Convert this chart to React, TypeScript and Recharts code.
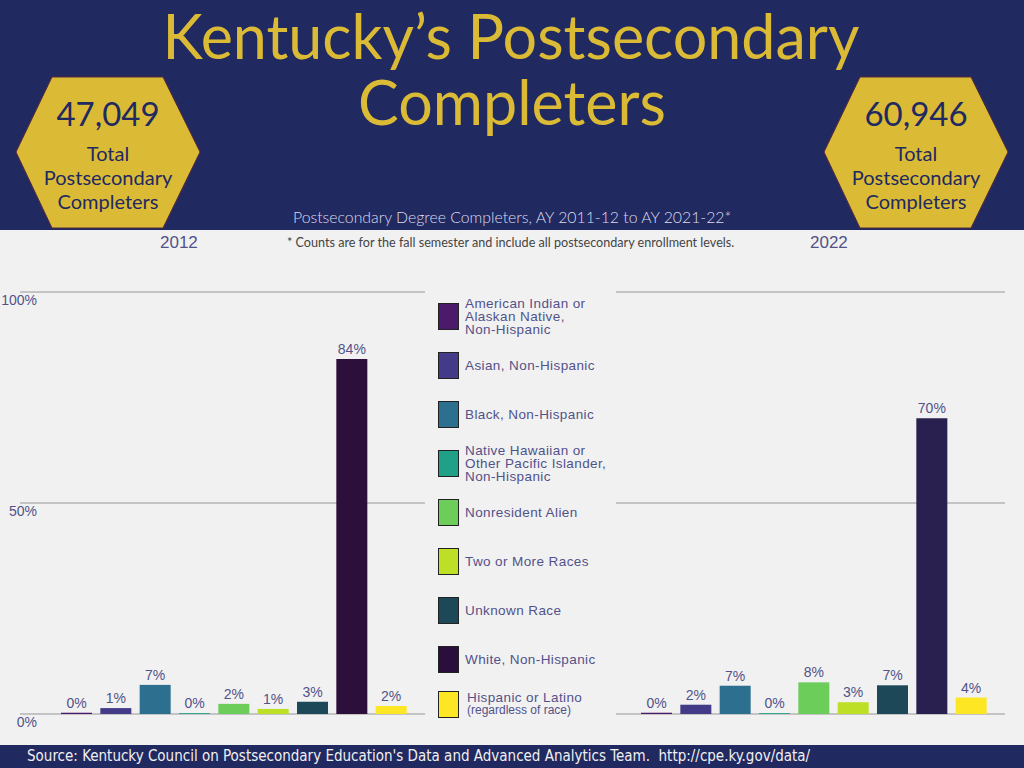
import { BarChart, Bar, XAxis, YAxis, CartesianGrid, Cell, LabelList } from 'recharts'

const categories = [
  'American Indian or Alaskan Native, Non-Hispanic',
  'Asian, Non-Hispanic',
  'Black, Non-Hispanic',
  'Native Hawaiian or Other Pacific Islander, Non-Hispanic',
  'Nonresident Alien',
  'Two or More Races',
  'Unknown Race',
  'White, Non-Hispanic',
  'Hispanic or Latino',
]

const legendLines = [
  ['American Indian or', 'Alaskan Native,', 'Non-Hispanic'],
  ['Asian, Non-Hispanic'],
  ['Black, Non-Hispanic'],
  ['Native Hawaiian or', 'Other Pacific Islander,', 'Non-Hispanic'],
  ['Nonresident Alien'],
  ['Two or More Races'],
  ['Unknown Race'],
  ['White, Non-Hispanic'],
  ['Hispanic or Latino', '(regardless of race)'],
]

const values2012 = [0.3, 1.4, 6.9, 0.2, 2.4, 1.2, 2.9, 84.1, 1.9]
const values2022 = [0.3, 2.2, 6.7, 0.2, 7.5, 2.8, 6.8, 70.1, 3.9]

const colors2012 = ['#4b1a6b', '#433b87', '#2c6f8e', '#20a086', '#6ccd5a', '#bddf26', '#1d4858', '#2c0f3b', '#fde725']
const colors2022 = ['#4b1a6b', '#433b87', '#2c6f8e', '#20a086', '#6ccd5a', '#bddf26', '#1d4858', '#29204f', '#fde725']
const legendColors = ['#4b1a6b', '#433b87', '#2c6f8e', '#20a086', '#6ccd5a', '#bddf26', '#1d4858', '#2a0f3c', '#fde725']

const yTicks = [0, 50, 100]
const totals = ['47,049', '60,946']
const years = ['2012', '2022']

const NAVY = '#212961'
const GOLD = '#dbbb36'
const TEXT = '#52528a'
const CHART_FONT = '"Liberation Sans", Arial, sans-serif'
const TITLE_FONT = 'Lato, "Open Sans", sans-serif'

const data2012 = categories.map((name, i) => ({ name, value: values2012[i] }))
const data2022 = categories.map((name, i) => ({ name, value: values2022[i] }))

function YTick(props: any) {
  const { x, y, payload } = props
  return (
    <text x={x + 25} y={y + 13} textAnchor="end" fontSize={14} fill={TEXT} fontFamily={CHART_FONT}>
      {payload.value}%
    </text>
  )
}

function Hexagon({ left, total }: { left: number; total: string }) {
  return (
    <div style={{ position: 'absolute', left, top: 76, width: 186, height: 154 }}>
      <svg width={186} height={154} style={{ position: 'absolute', left: 0, top: 0 }}>
        <polygon points="37,1 148,1 185,76 148,152 37,152 1,76" fill={GOLD} stroke="#5b2a3a" strokeWidth={1} />
      </svg>
      <div style={{ position: 'relative', textAlign: 'center', color: NAVY, fontFamily: TITLE_FONT }}>
        <div style={{ fontSize: 33, lineHeight: '36px', paddingTop: 19 }}>{total}</div>
        <div style={{ fontSize: 20, lineHeight: '24px', marginTop: 10 }}>
          Total<br />Postsecondary<br />Completers
        </div>
      </div>
    </div>
  )
}

function PctChart({ data, colors, showY, padLeft }: { data: any[]; colors: string[]; showY: boolean; padLeft: number }) {
  return (
    <BarChart
      width={showY ? 440 : 420}
      height={450}
      data={data}
      margin={{ top: 12, right: 15, left: showY ? 0 : 16, bottom: 16 }}
    >
      <CartesianGrid vertical={false} stroke="#b4b4b4" strokeWidth={1.5} />
      <XAxis dataKey="name" hide padding={{ left: padLeft, right: 14 }} />
      <YAxis
        domain={[0, 100]}
        ticks={yTicks}
        hide={!showY}
        width={20}
        axisLine={false}
        tickLine={false}
        tick={<YTick />}
      />
      <Bar dataKey="value" barSize={31} isAnimationActive={false}>
        {data.map((d, i) => (
          <Cell key={d.name} fill={colors[i]} />
        ))}
        <LabelList
          dataKey="value"
          position="top"
          offset={5}
          formatter={(v: any) => `${Math.round(Number(v))}%`}
          style={{ fontSize: 14, fill: TEXT, fontFamily: CHART_FONT }}
        />
      </Bar>
    </BarChart>
  )
}

export default function App() {
  return (
    <div style={{ position: 'absolute', left: 0, top: 0, width: 1024, height: 768, background: '#f1f1f1', overflow: 'hidden' }}>
      {/* header band */}
      <div style={{ position: 'absolute', left: 0, top: 0, width: 1024, height: 230, background: NAVY }} />
      <div
        style={{
          position: 'absolute',
          left: 0,
          top: 3,
          width: 1024,
          textAlign: 'center',
          color: GOLD,
          fontFamily: TITLE_FONT,
          fontSize: 61,
          lineHeight: '66px',
        }}
      >
        <div style={{ paddingRight: 2 }}>Kentucky’s Postsecondary</div>
        <div>Completers</div>
      </div>
      <Hexagon left={15} total={totals[0]} />
      <Hexagon left={823} total={totals[1]} />
      <div
        style={{
          position: 'absolute',
          left: 293,
          top: 207,
          color: '#dcdcec',
          fontFamily: 'Lato, sans-serif',
          fontWeight: 300,
          fontSize: 15.8,
          whiteSpace: 'nowrap',
        }}
      >
        Postsecondary Degree Completers, AY 2011-12 to AY 2021-22*
      </div>

      {/* sub header */}
      <div style={{ position: 'absolute', left: 160, top: 233, fontSize: 17, color: TEXT, fontFamily: CHART_FONT }}>{years[0]}</div>
      <div style={{ position: 'absolute', left: 810, top: 233, fontSize: 17, color: TEXT, fontFamily: CHART_FONT }}>{years[1]}</div>
      <div style={{ position: 'absolute', left: 287, top: 235, fontSize: 12.6, color: '#444', fontFamily: 'Lato, sans-serif', whiteSpace: 'nowrap' }}>
        * Counts are for the fall semester and include all postsecondary enrollment levels.
      </div>

      {/* charts */}
      <div style={{ position: 'absolute', left: 0, top: 280 }}>
        <PctChart data={data2012} colors={colors2012} showY padLeft={37} />
      </div>
      <div style={{ position: 'absolute', left: 600, top: 280 }}>
        <PctChart data={data2022} colors={colors2022} showY={false} padLeft={21} />
      </div>

      {/* legend */}
      <div style={{ position: 'absolute', left: 438, top: 292, fontFamily: CHART_FONT, color: TEXT }}>
        {categories.map((c, i) => (
          <div key={c} style={{ display: 'flex', alignItems: 'center', height: i === 8 ? 40 : 49 }}>
            <span
              style={{
                width: 19,
                height: 25,
                background: legendColors[i],
                border: '1px solid #222',
                flexShrink: 0,
              }}
            />
            <span style={{ marginLeft: 6, fontSize: 13.5, lineHeight: '13px', letterSpacing: 0.4 }}>
              {legendLines[i].map((l, j) => (
                <div key={j} style={j === 1 && i === 8 ? { fontSize: 12, marginLeft: 2, letterSpacing: 0 } : { marginLeft: i === 8 ? 2 : 0 }}>
                  {l}
                </div>
              ))}
            </span>
          </div>
        ))}
      </div>

      {/* footer */}
      <div
        style={{
          position: 'absolute',
          left: 0,
          top: 745,
          width: 1024,
          height: 23,
          background: NAVY,
          color: '#f0f0f0',
          fontFamily: '"Liberation Sans Narrow", "DejaVu Sans Condensed", sans-serif',
          fontSize: 15,
          lineHeight: '23px',
          paddingLeft: 27,
          boxSizing: 'border-box',
          whiteSpace: 'nowrap',
        }}
      >
        Source: Kentucky Council on Postsecondary Education's Data and Advanced Analytics Team.&nbsp; http://cpe.ky.gov/data/
      </div>
    </div>
  )
}
